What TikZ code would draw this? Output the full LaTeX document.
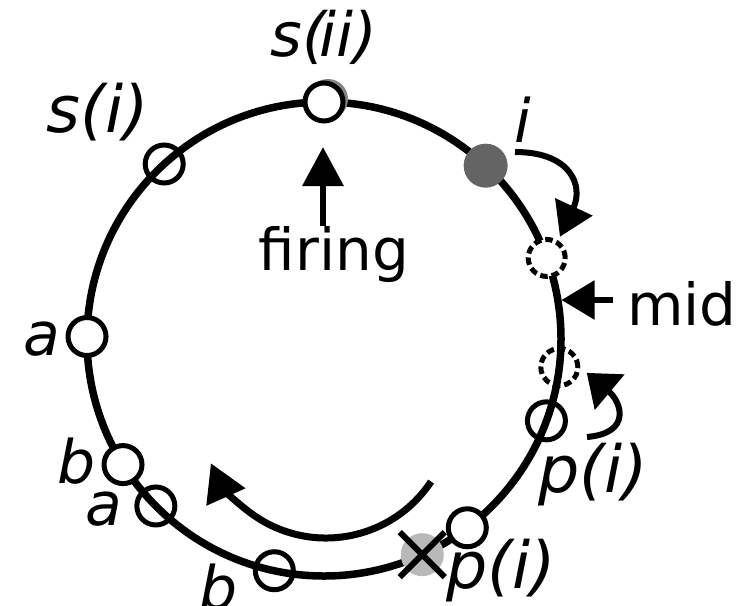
\documentclass[tikz,border=0pt]{standalone}
\usepackage{fontspec}
\setmainfont{DejaVu Sans}
\usetikzlibrary{arrows.meta,calc}
\definecolor{darkdot}{HTML}{646464}
\definecolor{lightdot}{HTML}{B9B9B9}
\begin{document}
\begin{tikzpicture}[x=1pt,y=1pt,
  ring/.style={circle, draw, line width=7.5pt, minimum size=474pt, inner sep=0pt},
  dot/.style={circle, draw, line width=5pt, minimum size=38pt, inner sep=0pt},
  dotw/.style={dot, fill=white},
  dashdot/.style={circle, draw, line width=5pt, minimum size=37pt, inner sep=0pt, dash pattern=on 7.5pt off 4pt},
  lbl/.style={inner sep=0pt, anchor=base west, font=\fontsize{65}{65}\selectfont\itshape},
  lbls/.style={lbl, font=\fontsize{60}{60}\selectfont\itshape},
  txt/.style={inner sep=0pt, anchor=base west, font=\fontsize{58}{58}\selectfont},
  arr/.style={line width=6pt, -{Triangle[length=33pt,width=40pt]}},
]
\useasboundingbox (0,0) rectangle (746,-605);

\node[ring] (ring) at (324,-339) {};

\begin{scope}[shift={(324,-339)}]
  \fill[darkdot!80] (90:237) ++(4,3) circle[radius=20];
  \node[dotw] (sii) at (90:237) {};
  \node[dot] (si) at (132.4:237) {};
  \node[circle, fill=darkdot, minimum size=44pt, inner sep=0pt] (ni) at (47:237) {};
  \node[dashdot, fill=white] (d1) at (20:237) {};
  \node[dashdot] (d2) at (-6.8:237) {};
  \node[dot] (p1) at (-20.2:237) {};
  \node[dotw] (p2) at (-52.8:237) {};
  \node[circle, fill=lightdot, minimum size=43pt, inner sep=0pt] (xx) at (-65.5:237) {};
  \node[dot] (b2) at (-102.1:237) {};
  \node[dot] (a2) at (-135.2:237) {};
  \node[dotw] (b1) at (-148:237) {};
  \node[dotw] (a1) at (179.4:237) {};
\end{scope}

\draw[line width=6pt] (xx) ++(-22.5,22.5) -- ++(45,-45);
\draw[line width=6pt] (xx) ++(22.5,22.5) -- ++(-45,-45);

% labels
\node[lbl, anchor=base, font=\fontsize{61}{61}\selectfont\itshape] (lsii) at (324,-56) {s(\kern-6pt ii)};
\node[lbl] (lsi) at (46,-132) {s(i)};
\node[lbls] (li) at (514,-142) {i};
\node[lbls] (la1) at (23,-355) {a};
\node[lbls] (lb1) at (57,-483) {b};
\node[lbls] (la2) at (85,-525) {a};
\node[lbls] (lb2) at (199,-609) {b};
\node[lbl] (lp1) at (538,-492) {p(i)};
\node[lbl] (lp2) at (446,-588) {p(i)};
\node[txt] (lmid) at (627,-325) {mid};
\node[txt, anchor=base] (lfiring) at (334,-270) {firing};

% connectors
\coordinate (fireTip) at (323,-147);
\draw[arr, line width=6.5pt, -{Triangle[length=39pt,width=40pt]}] (lfiring.north -| fireTip) -- (fireTip);

\coordinate (midTail) at (613,-300);
\coordinate (midTip) at (561.5,-300);
\draw[arr, line width=5.5pt, -{Triangle[length=33pt,width=38pt]}] (midTail) -- (midTip);

\coordinate (iStart) at (515,-152);
\draw[arr] (iStart) to[out=0, in=65, looseness=1.5] ($(d1)+(58:25)$);

\coordinate (lowStart) at (587,-437);
\draw[arr, -{Triangle[length=30pt,width=45pt]}] (lowStart) to[out=5, in=-40, looseness=1.8] ($(d2)+(-12:28)$);

\coordinate (arcC) at (326,-412);
\draw[arr, line width=7pt, -{Triangle[length=37pt,width=41pt]}] (arcC) ++(-33.5:126) arc[start angle=-33.5, end angle=-156, radius=126];
\end{tikzpicture}
\end{document}
